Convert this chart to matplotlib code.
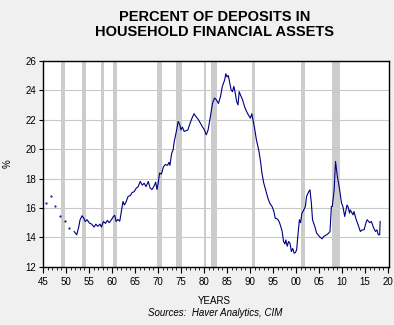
import matplotlib.pyplot as plt
from matplotlib.ticker import MultipleLocator, FuncFormatter

plt.rcParams['font.family'] = ['Liberation Sans', 'DejaVu Sans']

# annual observations before the quarterly series starts
early_years = [1945.65, 1946.7, 1947.7, 1948.7, 1949.7, 1950.7]
early_pct = [16.33, 16.78, 16.1, 15.47, 15.08, 14.63]

# deposits as share of household financial assets, quarterly
years = [1951.76, 1952.35, 1952.8, 1953.07, 1953.5, 1953.9, 1954.2, 1954.6, 1955.1, 1955.6,
         1956.1, 1956.5, 1956.9, 1957.4, 1957.7, 1958.15, 1958.6, 1959.0, 1959.4, 1959.9,
         1960.3, 1960.6, 1960.9, 1961.3, 1961.7, 1962.1, 1962.4, 1962.7, 1963.1, 1963.5,
         1964.0, 1964.4, 1964.8, 1965.3, 1965.7, 1966.15, 1966.6, 1967.0, 1967.4, 1967.9,
         1968.3, 1968.7, 1969.1, 1969.5, 1969.8, 1970.1, 1970.35, 1970.75, 1971.2, 1971.6,
         1972.1, 1972.4, 1972.6, 1973.0, 1973.3, 1973.55, 1974.0, 1974.4, 1974.7, 1975.0,
         1975.3, 1975.7, 1976.1, 1976.5, 1977.0, 1977.4, 1977.85, 1978.4, 1978.8, 1979.2,
         1979.7, 1980.1, 1980.5, 1980.9, 1981.4, 1981.85, 1982.3, 1982.7, 1983.15, 1983.6,
         1984.0, 1984.5, 1984.75, 1985.0, 1985.3, 1985.6, 1985.9, 1986.2, 1986.5, 1986.8,
         1987.1, 1987.4, 1987.66, 1987.95, 1988.4, 1988.8, 1989.25, 1989.7, 1990.1, 1990.4,
         1990.7, 1991.0, 1991.4, 1991.9, 1992.3, 1992.6, 1993.0, 1993.5, 1993.9, 1994.3,
         1994.8, 1995.2, 1995.5, 1995.8, 1996.1, 1996.4, 1996.7, 1997.0, 1997.3, 1997.6,
         1997.8, 1998.1, 1998.4, 1998.7, 1999.0, 1999.3, 1999.6, 1999.9, 2000.15, 2000.4,
         2000.75, 2001.0, 2001.3, 2001.6, 2002.05, 2002.3, 2002.8, 2003.05, 2003.35, 2003.6,
         2004.1, 2004.5, 2005.1, 2005.7, 2006.0, 2006.7, 2007.1, 2007.4, 2007.7, 2007.9,
         2008.3, 2008.6, 2008.7, 2009.0, 2009.5, 2009.9, 2010.2, 2010.6, 2011.1, 2011.3,
         2011.65, 2011.8, 2012.4, 2012.6, 2013.1, 2013.5, 2014.0, 2014.4, 2014.8, 2015.3,
         2015.5, 2016.0, 2016.4, 2016.9, 2017.3, 2017.6, 2017.9, 2018.2, 2018.3]
pct = [14.40, 14.18, 14.74, 15.2, 15.47, 15.3, 15.08, 15.2, 14.97, 14.9,
       14.7, 14.9, 14.75, 14.9, 14.7, 15.08, 14.95, 15.15, 15.0, 15.2,
       15.42, 15.5, 15.08, 15.22, 15.1, 15.87, 16.44, 16.2, 16.43, 16.78,
       16.85, 17.05, 17.1, 17.35, 17.45, 17.8, 17.55, 17.68, 17.45, 17.8,
       17.35, 17.25, 17.45, 17.75, 17.25, 17.8, 18.37, 18.3, 18.8, 18.95,
       18.9, 19.1, 18.9, 19.73, 19.95, 20.52, 21.2, 21.88, 21.7, 21.3,
       21.5, 21.2, 21.25, 21.3, 21.77, 22.1, 22.4, 22.15, 22.0, 21.77,
       21.5, 21.3, 20.97, 21.3, 22.2, 23.1, 23.47, 23.35, 23.1, 23.58,
       24.26, 24.7, 25.12, 24.9, 25.0, 24.5, 24.03, 23.9, 24.26, 23.8,
       23.24, 23.0, 23.9, 23.67, 23.35, 22.9, 22.56, 22.3, 22.1, 22.4,
       21.9, 21.43, 20.63, 19.95, 19.16, 18.37, 17.69, 17.12, 16.67, 16.33,
       16.1, 15.76, 15.3, 15.28, 15.2, 15.03, 14.74, 14.4, 13.72, 13.55,
       13.83, 13.4, 13.72, 13.6, 13.04, 13.25, 12.93, 12.97, 13.16, 14.06,
       15.2, 15.0, 15.65, 15.8, 16.1, 16.78, 17.12, 17.23, 16.33, 15.2,
       14.74, 14.29, 14.06, 13.9, 14.06, 14.18, 14.29, 14.4, 16.1, 16.1,
       17.23, 19.16, 18.9, 18.14, 17.23, 16.33, 16.1, 15.42, 16.2, 16.1,
       15.65, 15.87, 15.53, 15.76, 15.2, 14.86, 14.4, 14.51, 14.51, 15.08,
       15.2, 15.0, 15.08, 14.63, 14.4, 14.51, 14.18, 14.18, 15.08]

# NBER recessions (start, end)
recessions = [(1948.9, 1949.8), (1953.5, 1954.4), (1957.6, 1958.3), (1960.3, 1961.1),
              (1969.9, 1970.9), (1973.9, 1975.2), (1980.0, 1980.5), (1981.5, 1982.9),
              (1990.5, 1991.2), (2001.2, 2001.9), (2007.9, 2009.5)]

fig = plt.figure(figsize=(3.94, 3.25), dpi=100, facecolor='#f0f0f0')
ax = fig.add_axes([0.109, 0.179, 0.878, 0.634])
ax.set_facecolor('white')

for start, end in recessions:
    ax.axvspan(start, end, color='#cccccc', lw=0, zorder=1)

ax.grid(axis='y', color='#c8c8c8', lw=0.8, zorder=0)
ax.set_axisbelow(True)

ax.scatter(early_years, early_pct, s=0.3, c='#000080', zorder=3)
ax.plot(years, pct, color='#000080', lw=0.8, zorder=3)

ax.set_xlim(1945, 2020.2)
ax.set_ylim(12, 26)
ax.xaxis.set_major_locator(MultipleLocator(5))
ax.xaxis.set_minor_locator(MultipleLocator(1))
ax.xaxis.set_major_formatter(FuncFormatter(lambda v, p: '%02d' % (int(round(v)) % 100)))
ax.yaxis.set_major_locator(MultipleLocator(2))
ax.tick_params(axis='both', labelsize=7, width=0.8, color='black')
ax.tick_params(axis='x', which='major', length=4)
ax.tick_params(axis='x', which='minor', length=2.5, width=0.6)
ax.tick_params(axis='y', length=3, pad=2)
for sp in ax.spines.values():
    sp.set_linewidth(1.0)

ax.set_ylabel('%', fontsize=7, labelpad=9)

fig.text(0.545, 0.949, 'PERCENT OF DEPOSITS IN', ha='center', va='center',
         fontsize=10.5, fontweight='bold')
fig.text(0.545, 0.903, 'HOUSEHOLD FINANCIAL ASSETS', ha='center', va='center',
         fontsize=10.5, fontweight='bold')
fig.text(0.545, 0.075, 'YEARS', ha='center', va='center', fontsize=7)
fig.text(0.545, 0.037, 'Sources:  Haver Analytics, CIM', ha='center', va='center',
         fontsize=7, style='italic')

fig.savefig('out.png', dpi=100, facecolor=fig.get_facecolor())
